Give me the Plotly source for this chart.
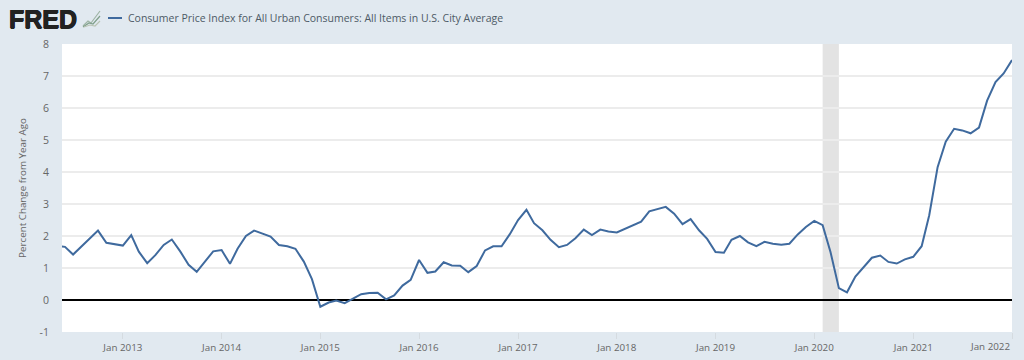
import pandas as pd
import plotly.graph_objects as go

START_MONTH = "2012-05-01"
SERIES_NAME = "Consumer Price Index for All Urban Consumers: All Items in U.S. City Average"
Y_TITLE = "Percent Change from Year Ago"

cpi_2012 = [1.70, 1.66, 1.42, 1.68, 1.95, 2.17, 1.79, 1.75]
cpi_2013 = [1.70, 2.03, 1.51, 1.15, 1.40, 1.72, 1.89, 1.52, 1.10, 0.88, 1.22, 1.52]
cpi_2014 = [1.56, 1.13, 1.60, 2.00, 2.17, 2.07, 1.98, 1.72, 1.68, 1.60, 1.20, 0.65]
cpi_2015 = [-0.21, -0.08, -0.02, -0.10, 0.03, 0.18, 0.22, 0.23, 0.02, 0.14, 0.45, 0.63]
cpi_2016 = [1.25, 0.85, 0.89, 1.18, 1.08, 1.07, 0.87, 1.06, 1.55, 1.68, 1.68, 2.05]
cpi_2017 = [2.50, 2.82, 2.40, 2.18, 1.88, 1.65, 1.72, 1.93, 2.20, 2.03, 2.20, 2.14]
cpi_2018 = [2.11, 2.23, 2.35, 2.45, 2.77, 2.85, 2.91, 2.70, 2.37, 2.53, 2.18, 1.91]
cpi_2019 = [1.50, 1.48, 1.88, 2.00, 1.80, 1.68, 1.82, 1.76, 1.73, 1.76, 2.05, 2.28]
cpi_2020 = [2.47, 2.34, 1.50, 0.37, 0.24, 0.73, 1.03, 1.32, 1.39, 1.19, 1.14, 1.27]
cpi_2021 = [1.35, 1.68, 2.65, 4.15, 4.95, 5.35, 5.30, 5.21, 5.39, 6.23, 6.81, 7.08]
cpi_2022 = [7.50]
values = (cpi_2012 + cpi_2013 + cpi_2014 + cpi_2015 + cpi_2016 + cpi_2017
          + cpi_2018 + cpi_2019 + cpi_2020 + cpi_2021 + cpi_2022)
dates = pd.date_range(START_MONTH, periods=len(values), freq="MS")

x_ticks = ["2013-01-01", "2014-01-01", "2015-01-01", "2016-01-01", "2017-01-01",
           "2018-01-01", "2019-01-01", "2020-01-01", "2021-01-01", "2022-01-01"]
x_labels = ["Jan 2013", "Jan 2014", "Jan 2015", "Jan 2016", "Jan 2017",
            "Jan 2018", "Jan 2019", "Jan 2020", "Jan 2021", ""]
last_label = "Jan 2022"
y_ticks = [-1, 0, 1, 2, 3, 4, 5, 6, 7, 8]
y_labels = ["-1", "0", "1", "2", "3", "4", "5", "6", "7", "8"]
recession = ["2020-02-01", "2020-04-01"]

BG = "#e1e9f0"
TXT = "#666666"
LINE = "#3f6a9e"
FONT = "Open Sans"

fig = go.Figure(go.Scatter(x=dates, y=values, mode="lines", name=SERIES_NAME,
                           line=dict(color=LINE, width=2), showlegend=False))


def px(x, y):
    """Canvas pixels to paper fractions, for the header decoration only."""
    return (x - 62) / 950, (332 - y) / 288


x0, y0 = px(108, 18)
x1, y1 = px(122, 18)
shapes = [
    dict(type="rect", xref="x", yref="paper", x0=recession[0], x1=recession[1], y0=0, y1=1,
         fillcolor="#e3e3e3", line_width=0, layer="below"),
    dict(type="line", xref="paper", yref="paper", x0=x0, x1=x1, y0=y0, y1=y1,
         line=dict(color=LINE, width=2)),
]
logo_lines = [
    ("#9fb5a6", [(83, 26), (88, 21), (91, 23), (100, 11)]),
    ("#7f9f8a", [(83, 27), (89, 23), (93, 24), (100, 16)]),
    ("#b9c4b4", [(84, 27), (90, 25), (95, 26), (100, 21)]),
]
for color, pts in logo_lines:
    path = ""
    for i, (a, b) in enumerate(pts):
        u, v = px(a, b)
        path += ("M" if i == 0 else "L") + f"{u},{v} "
    shapes.append(dict(type="path", xref="paper", yref="paper", path=path,
                       line=dict(color=color, width=1.2)))

lx, ly = px(126, 18)
fx, fy = px(7, 19)
ex, ey = px(1012, 346)
annotations = [
    dict(text=SERIES_NAME, xref="paper", yref="paper", x=lx, y=ly, xanchor="left", yanchor="middle",
         showarrow=False, font=dict(family=FONT, size=10.5, color="#4d5a66")),
    dict(text="<b>FRED</b>", xref="paper", yref="paper", x=fx, y=fy, xanchor="left", yanchor="middle",
         showarrow=False, font=dict(family="Liberation Sans", size=25, color="#222222",
                                    shadow="0.6px 0 0 #222222, -0.6px 0 0 #222222, 0 0.5px 0 #222222")),
    dict(text=last_label, xref="paper", yref="paper", x=ex, y=ey, xanchor="right", yanchor="middle",
         showarrow=False, font=dict(family=FONT, size=9.8, color=TXT)),
]

fig.update_layout(
    width=1024, height=360, margin=dict(l=62, r=12, t=44, b=28),
    paper_bgcolor=BG, plot_bgcolor="#ffffff",
    font=dict(family=FONT, size=11, color=TXT),
    shapes=shapes, annotations=annotations,
    xaxis=dict(type="date", range=["2012-05-21", "2022-01-01"], tickmode="array",
               tickvals=x_ticks, ticktext=x_labels, showgrid=False, zeroline=False,
               ticks="outside", ticklen=6, tickcolor="#d5dbe0", tickwidth=1, automargin=False,
               tickfont=dict(size=9.8, color=TXT), showline=False),
    yaxis=dict(range=[-1, 8], tickmode="array", tickvals=y_ticks, ticktext=y_labels,
               showgrid=True, automargin=False,
               gridcolor="#ececec", gridwidth=1.5, zeroline=True, zerolinecolor="#000000",
               zerolinewidth=2, ticks="outside", ticklen=10, tickcolor="rgba(0,0,0,0)",
               tickfont=dict(size=10.5, color=TXT), showline=False,
               title=dict(text=Y_TITLE, font=dict(size=9.8, color=TXT), standoff=11)),
)

fig.write_html("out.html", config=dict(displayModeBar=False),
               post_script="document.body.style.margin='0';")
